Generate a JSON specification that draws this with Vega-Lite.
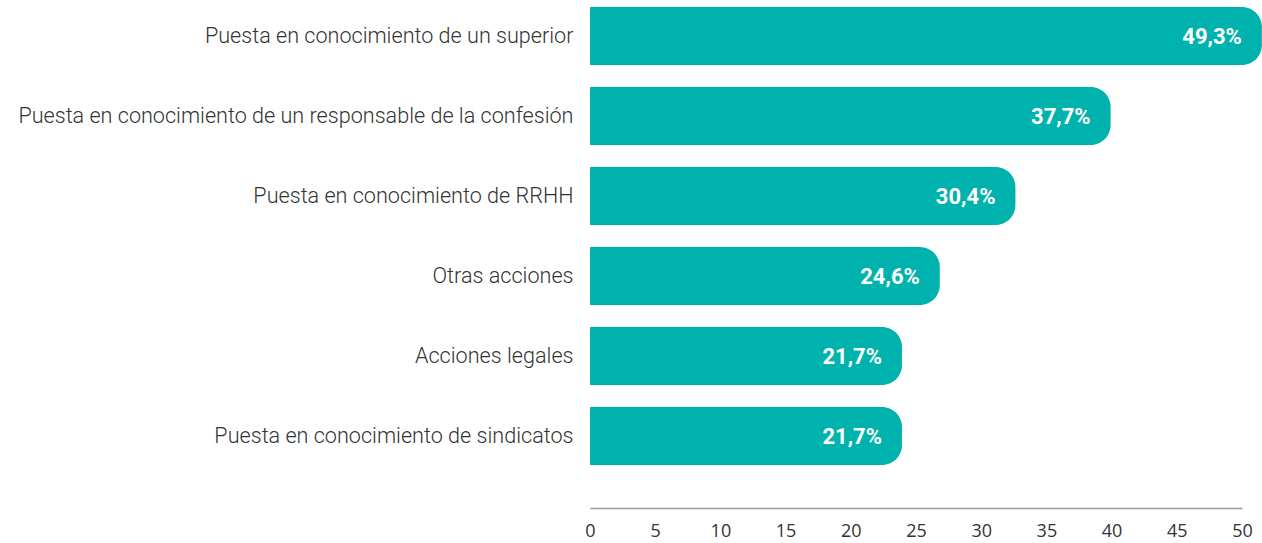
{
  "$schema": "https://vega.github.io/schema/vega-lite/v6.json",
  "width": 652,
  "height": 508,
  "autosize": {"type": "none"},
  "padding": {"left": 590, "top": 0, "right": 20, "bottom": 35},
  "background": "#ffffff",
  "config": {"view": {"stroke": null}},
  "data": {
    "values": [
      {"accion": "Puesta en conocimiento de un superior", "value": 49.3, "label": "49,3%"},
      {"accion": "Puesta en conocimiento de un responsable de la confesión", "value": 37.7, "label": "37,7%"},
      {"accion": "Puesta en conocimiento de RRHH", "value": 30.4, "label": "30,4%"},
      {"accion": "Otras acciones", "value": 24.6, "label": "24,6%"},
      {"accion": "Acciones legales", "value": 21.7, "label": "21,7%"},
      {"accion": "Puesta en conocimiento de sindicatos", "value": 21.7, "label": "21,7%"}
    ]
  },
  "encoding": {
    "y": {
      "field": "accion",
      "type": "nominal",
      "sort": null,
      "title": null,
      "scale": {"paddingInner": 0.275, "paddingOuter": 0.3125, "align": 0.14},
      "axis": {
        "domain": false,
        "ticks": false,
        "labelFont": "Roboto",
        "labelFontSize": 21.6,
        "labelFontWeight": 300,
        "labelColor": "#333333",
        "labelPadding": 17,
        "labelOffset": 1,
        "labelLimit": 700
      }
    },
    "x": {
      "field": "value",
      "type": "quantitative",
      "scale": {"domain": [0, 50], "nice": false},
      "title": null,
      "axis": {
        "values": [0, 5, 10, 15, 20, 25, 30, 35, 40, 45, 50],
        "grid": false,
        "ticks": false,
        "labelFlush": false,
        "domainColor": "#999999",
        "domainWidth": 1.5,
        "labelFont": "Open Sans",
        "labelFontSize": 18,
        "labelColor": "#333333",
        "labelPadding": 14
      }
    }
  },
  "layer": [
    {
      "mark": {
        "type": "bar",
        "color": "#00B2AD",
        "xOffset": 29,
        "cornerRadiusTopRight": 20,
        "cornerRadiusBottomRight": 20
      },
      "encoding": {
        "x2": {"datum": 0}
      }
    },
    {
      "mark": {
        "type": "text",
        "align": "right",
        "baseline": "middle",
        "dx": 9,
        "dy": 1,
        "font": "Roboto",
        "fontWeight": "bold",
        "fontSize": 22,
        "color": "#ffffff"
      },
      "encoding": {
        "text": {"field": "label"}
      }
    }
  ]
}
